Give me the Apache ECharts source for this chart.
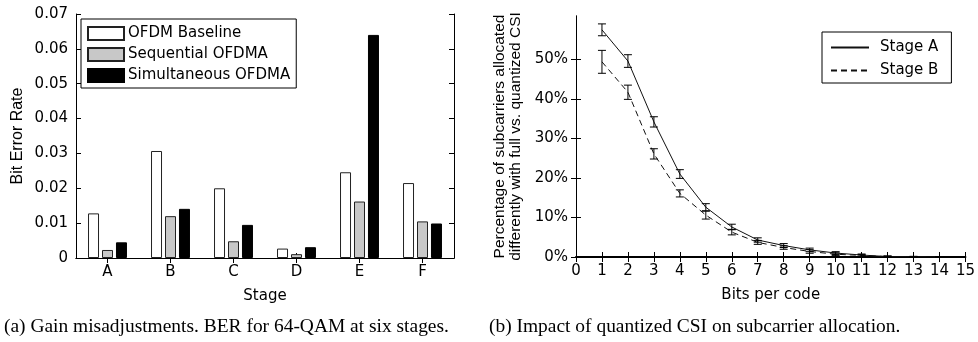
<!DOCTYPE html>
<html><head><meta charset="utf-8">
<script src="https://cdn.jsdelivr.net/npm/echarts@6/dist/echarts.min.js"></script>
<style>html,body{margin:0;padding:0;background:#fff}#c{width:978px;height:342px}</style>
</head><body><div id="c"></div>
<script>
// ---- Data (a): BER per stage ----
const stages = ['A', 'B', 'C', 'D', 'E', 'F'];
const berBaseline = [0.0128, 0.0307, 0.0200, 0.0027, 0.0246, 0.0215];
const berSequential = [0.0023, 0.0120, 0.0048, 0.0011, 0.0162, 0.0105];
const berSimultaneous = [0.0045, 0.0141, 0.0095, 0.0031, 0.0640, 0.0099];
const berSeriesNames = ['OFDM Baseline', 'Sequential OFDMA', 'Simultaneous OFDMA'];

// ---- Data (b): percentage of subcarriers allocated differently ----
const bitsPerCode = [1, 2, 3, 4, 5, 6, 7, 8, 9, 10, 11, 12, 13, 14];
const stageA = [57.5, 49.6, 34.2, 21.0, 12.6, 7.6, 4.3, 2.9, 1.8, 1.0, 0.5, 0.1, 0.05, 0.02];
const stageAErr = [1.5, 1.6, 1.3, 1.1, 0.9, 0.7, 0.55, 0.5, 0.45, 0.35, 0.25, 0.15, 0.1, 0.1];
const stageB = [49.4, 41.7, 26.1, 16.1, 10.6, 6.3, 3.7, 2.4, 1.4, 0.7, 0.4, 0.1, 0.05, 0.02];
const stageBErr = [2.9, 1.8, 1.3, 0.9, 1.0, 0.7, 0.5, 0.45, 0.45, 0.35, 0.25, 0.15, 0.1, 0.1];
const pctTicks = [0, 10, 20, 30, 40, 50];

const HFONT = 'DejaVu Sans';
const VFONT = 'Liberation Sans';
const FS = 15;

function frameAxis(extra) {
  return Object.assign({
    axisLine: { show: true, lineStyle: { color: '#000', width: 1 } },
    axisTick: { show: true, inside: true, length: 5, lineStyle: { color: '#000' } },
    splitLine: { show: false },
    axisLabel: { color: '#000', fontFamily: HFONT, fontSize: FS }
  }, extra);
}

function errorBars(vals, errs) {
  return {
    type: 'custom', xAxisIndex: 2, yAxisIndex: 2, silent: true, z: 4,
    data: bitsPerCode.map((b, i) => [b, vals[i] - errs[i], vals[i] + errs[i]]),
    renderItem(params, api) {
      const x = api.value(0);
      const lo = api.coord([x, api.value(1)]);
      const hi = api.coord([x, api.value(2)]);
      const w = 4;
      const st = { stroke: '#000', lineWidth: 1 };
      return { type: 'group', children: [
        { type: 'line', shape: { x1: lo[0], y1: lo[1], x2: hi[0], y2: hi[1] }, style: st },
        { type: 'line', shape: { x1: lo[0] - w, y1: lo[1], x2: lo[0] + w, y2: lo[1] }, style: st },
        { type: 'line', shape: { x1: hi[0] - w, y1: hi[1], x2: hi[0] + w, y2: hi[1] }, style: st }
      ] };
    }
  };
}

const chart = echarts.init(document.getElementById('c'), null, { renderer: 'canvas' });
chart.setOption({
  animation: false,
  backgroundColor: '#fff',
  grid: [
    { left: 76, top: 14, width: 378, height: 244 },
    { left: 576, top: 16, width: 390, height: 241 }
  ],
  legend: [
    {
      data: berSeriesNames, orient: 'vertical', left: 81, top: 19, icon: 'rect',
      itemWidth: 36, itemHeight: 13, itemGap: 6,
      padding: [7, 6, 5, 6], borderColor: '#000', borderWidth: 1, borderRadius: 0,
      backgroundColor: '#fff',
      textStyle: { color: '#000', fontFamily: HFONT, fontSize: FS, padding: [0, 0, 0, -1] }
    },
    {
      data: ['Stage A', 'Stage B'], orient: 'vertical', left: 822, top: 32,
      itemWidth: 38, itemHeight: 12, itemGap: 8,
      itemStyle: { color: 'rgba(0,0,0,0)', borderWidth: 0, opacity: 0 },
      padding: [8, 13, 5, 8], borderColor: '#000', borderWidth: 1, borderRadius: 0,
      backgroundColor: '#fff',
      textStyle: { color: '#000', fontFamily: HFONT, fontSize: FS, padding: [0, 0, 0, 6] }
    }
  ],
  xAxis: [
    frameAxis({ type: 'category', gridIndex: 0, position: 'bottom', data: stages,
      axisTick: { show: true, inside: true, length: 5, alignWithLabel: true, lineStyle: { color: '#000' } },
      axisLabel: { color: '#000', fontFamily: HFONT, fontSize: FS, margin: 7 },
      name: 'Stage', nameLocation: 'middle', nameGap: 31,
      nameTextStyle: { color: '#000', fontFamily: HFONT, fontSize: FS } }),
    frameAxis({ type: 'category', gridIndex: 0, position: 'top', data: stages,
      axisTick: { show: true, inside: true, length: 5, alignWithLabel: true, lineStyle: { color: '#000' } },
      axisLabel: { show: false } }),
    frameAxis({ type: 'value', gridIndex: 1, position: 'bottom', min: 0, max: 15, interval: 1,
      axisLine: { show: true, lineStyle: { color: '#000', width: 2 } },
      axisLabel: { color: '#000', fontFamily: HFONT, fontSize: FS, margin: 7 },
      name: 'Bits per code', nameLocation: 'middle', nameGap: 31,
      nameTextStyle: { color: '#000', fontFamily: HFONT, fontSize: FS } }),
    frameAxis({ type: 'value', gridIndex: 1, position: 'top', min: 0, max: 15, interval: 1,
      axisLabel: { show: false } })
  ],
  yAxis: [
    frameAxis({ type: 'value', gridIndex: 0, position: 'left', min: 0, max: 0.07, interval: 0.01,
      axisLabel: { color: '#000', fontFamily: HFONT, fontSize: FS, margin: 8,
        formatter: v => (v === 0 ? '0' : v.toFixed(2)) },
      name: 'Bit Error Rate', nameLocation: 'middle', nameGap: 50, nameRotate: 90,
      nameTextStyle: { color: '#000', fontFamily: VFONT, fontSize: 16 } }),
    frameAxis({ type: 'value', gridIndex: 0, position: 'right', min: 0, max: 0.07, interval: 0.01,
      axisLabel: { show: false } }),
    frameAxis({ type: 'value', gridIndex: 1, position: 'left', min: 0, max: 61, interval: 10,
      axisTick: { show: true, inside: true, length: 5, customValues: pctTicks, lineStyle: { color: '#000' } },
      axisLabel: { color: '#000', fontFamily: HFONT, fontSize: FS, margin: 8, customValues: pctTicks,
        formatter: v => v + '%' },
      name: 'Percentage of subcarriers allocated\ndifferently with full vs. quantized CSI',
      nameLocation: 'middle', nameGap: 52, nameRotate: 90,
      nameTextStyle: { color: '#000', fontFamily: VFONT, fontSize: 15.5, lineHeight: 16 } }),
    frameAxis({ type: 'value', gridIndex: 1, position: 'right', min: 0, max: 61, interval: 10,
      axisTick: { show: true, inside: true, length: 5, customValues: pctTicks, lineStyle: { color: '#000' } },
      axisLabel: { show: false } })
  ],
  series: [
    { name: berSeriesNames[0], type: 'bar', xAxisIndex: 0, yAxisIndex: 0, data: berBaseline,
      barWidth: 11, barGap: '27%',
      itemStyle: { color: '#ffffff', borderColor: '#222', borderWidth: 1 } },
    { name: berSeriesNames[1], type: 'bar', xAxisIndex: 0, yAxisIndex: 0, data: berSequential,
      barWidth: 11, barGap: '27%',
      itemStyle: { color: '#c8c8c8', borderColor: '#222', borderWidth: 1 } },
    { name: berSeriesNames[2], type: 'bar', xAxisIndex: 0, yAxisIndex: 0, data: berSimultaneous,
      barWidth: 11, barGap: '27%',
      itemStyle: { color: '#000000', borderColor: '#000', borderWidth: 1 } },
    { name: 'Stage A', type: 'line', xAxisIndex: 2, yAxisIndex: 2, symbol: 'none',
      data: bitsPerCode.map((b, i) => [b, stageA[i]]),
      lineStyle: { color: '#111', width: 1, type: 'solid' }, itemStyle: { color: '#111' } },
    { name: 'Stage B', type: 'line', xAxisIndex: 2, yAxisIndex: 2, symbol: 'none',
      data: bitsPerCode.map((b, i) => [b, stageB[i]]),
      lineStyle: { color: '#111', width: 1, type: [6, 4] }, itemStyle: { color: '#111' } },
    errorBars(stageA, stageAErr),
    errorBars(stageB, stageBErr)
  ],
  graphic: [
    { type: 'text', left: 4, top: 318, scaleX: 1.08,
      style: { text: '(a) Gain misadjustments. BER for 64-QAM at six stages.',
      fill: '#000', font: '18px "Liberation Serif"' } },
    { type: 'text', left: 489, top: 318, scaleX: 1.08,
      style: { text: '(b) Impact of quantized CSI on subcarrier allocation.',
      fill: '#000', font: '18px "Liberation Serif"' } }
  ]
});
</script>
</body></html>
